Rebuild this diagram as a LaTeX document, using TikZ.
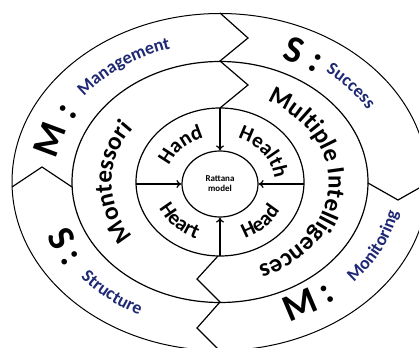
\documentclass[tikz,border=0pt]{standalone}
\usepackage{fontspec}
\setmainfont{Carlito}
\usetikzlibrary{arrows.meta,decorations.text,shapes.geometric}

\definecolor{inkblue}{RGB}{30,40,115}
\newcommand{\capfont}{\fontsize{38}{38}\selectfont\bfseries}
\newcommand{\wordfont}{\fontsize{18}{18}\selectfont\bfseries}
\newcommand{\ringfont}{\fontsize{25}{25}\selectfont\bfseries}
\newcommand{\innerfont}{\fontsize{21}{21}\selectfont\bfseries}

\tikzset{
  ring/.style={line width=1.2pt},
  ringword/.style={decorate, decoration={text along path, text align=center, text color=#1}},
  ringword/.default=black,
  >={To[length=5pt,width=8pt]}
}

\begin{document}
\begin{tikzpicture}[x=1pt, y=1pt]
  \fill[white] (0,0) rectangle (419,-347);
  \clip (0,0) rectangle (419,-347);

  % rings
  \draw[line width=1pt] (220,-182) ellipse [x radius=208, y radius=168.5];
  \draw[ring] (220,-182) ellipse [x radius=148, y radius=120.5];
  \draw[ring] (220,-182) ellipse [x radius=84, y radius=74];
  \node[draw, ellipse, ring, minimum width=76pt, minimum height=66pt, inner sep=0pt,
        align=center, font=\fontsize{9}{10}\selectfont\bfseries] (model) at (220,-184) {Rattana\\model};

  % zigzag borders
  \draw[ring] (220,-13) -- (248,-38) -- (220,-61) -- (248,-85) -- (220,-108);
  \draw[ring] (218,-256) -- (197,-279) -- (220,-302) -- (197,-328) -- (220,-351);
  \draw[ring] (12,-187) -- (42,-167) -- (72,-187);
  \draw[ring] (368,-183) -- (398,-200) -- (428,-183);

  % arrows to the centre
  \coordinate (ntop) at (220,-108);
  \coordinate (nbottom) at (220,-256);
  \coordinate (nleft) at (136,-184);
  \coordinate (nright) at (304,-184);
  \draw[ring, ->] (ntop) -- (model.north);
  \draw[ring, ->] (nbottom) -- (model.south);
  \draw[ring, ->] (nleft) -- (model.west);
  \draw[ring, ->] (nright) -- (model.east);

  % outer ring
  \path[ringword, decoration={text={|\capfont|M :}}, shift={(220,-182)}]
    (180:166 and 132.5) arc[start angle=180, end angle=140, x radius=166, y radius=132.5];
  \path[ringword=inkblue, decoration={text={|\wordfont|Management}}, shift={(220,-182)}]
    (165:172.6 and 139.1) arc[start angle=165, end angle=87, x radius=172.6, y radius=139.1];
  \path[ringword, decoration={text={|\capfont|S :}}, shift={(220,-182)}]
    (81:166 and 132.5) arc[start angle=81, end angle=41, x radius=166, y radius=132.5];
  \path[ringword=inkblue, decoration={text={|\wordfont|Success}}, shift={(220,-182)}]
    (70:172.6 and 139.1) arc[start angle=70, end angle=11, x radius=172.6, y radius=139.1];
  \path[ringword, decoration={text={|\capfont|S :}}, shift={(220,-182)}]
    (187:186 and 153) arc[start angle=187, end angle=227, x radius=186, y radius=153];
  \path[ringword=inkblue, decoration={text={|\wordfont|Structure}}, shift={(220,-182)}]
    (198:182 and 148.5) arc[start angle=198, end angle=263, x radius=182, y radius=148.5];
  \path[ringword, decoration={text={|\capfont|M :}}, shift={(220,-182)}]
    (281:184 and 150.5) arc[start angle=281, end angle=321, x radius=184, y radius=150.5];
  \path[ringword=inkblue, decoration={text={|\wordfont|Monitoring}}, shift={(220,-182)}]
    (300:182 and 148.5) arc[start angle=300, end angle=368, x radius=182, y radius=148.5];

  % middle ring
  \path[ringword, decoration={text={|\ringfont|Montessori}}, shift={(220,-182)}]
    (236:108.5 and 89.5) arc[start angle=236, end angle=124, x radius=108.5, y radius=89.5];
  \path[ringword, decoration={text={|\ringfont|Multiple Intelligences}}, shift={(220,-182)}]
    (82:108.5 and 89.5) arc[start angle=82, end angle=-87, x radius=108.5, y radius=89.5];

  % inner ring
  \path[ringword, decoration={text={|\innerfont|Hand}}, shift={(220,-183)}]
    (175:54.7 and 47.2) arc[start angle=175, end angle=93, x radius=54.7, y radius=47.2];
  \path[ringword, decoration={text={|\innerfont|Health}}, shift={(220,-183)}]
    (80:54.7 and 47.2) arc[start angle=80, end angle=-5, x radius=54.7, y radius=47.2];
  \path[ringword, decoration={text={|\innerfont|Heart}}, shift={(220,-183)}]
    (190:67.3 and 59.8) arc[start angle=190, end angle=263, x radius=67.3, y radius=59.8];
  \path[ringword, decoration={text={|\innerfont|Head}}, shift={(220,-183)}]
    (275:67.3 and 59.8) arc[start angle=275, end angle=351, x radius=67.3, y radius=59.8];
\end{tikzpicture}
\end{document}
